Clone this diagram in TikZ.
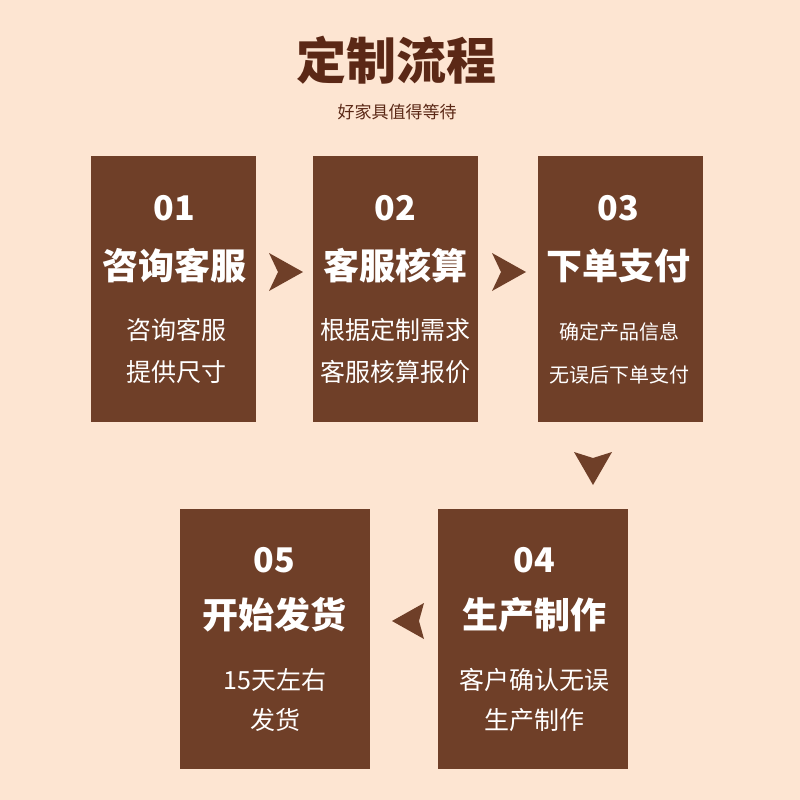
\documentclass[tikz,border=0pt]{standalone}
\usepackage{fontspec}
\setmainfont{Noto Sans CJK SC}
\usetikzlibrary{calc}
\definecolor{bgpeach}{HTML}{FDE5D2}
\definecolor{boxbrown}{HTML}{6F3F28}
\definecolor{ttlbrown}{HTML}{5B2816}
\tikzset{
  stepbox/.style = {fill=boxbrown, inner sep=0pt, minimum width=165pt, minimum height=266pt},
  widebox/.style = {fill=boxbrown, inner sep=0pt, minimum width=190pt, minimum height=260pt},
  num/.style     = {text=white, font=\fontsize{34}{34}\selectfont\bfseries, inner sep=0pt},
  ttl/.style     = {text=white, font=\fontsize{36}{36}\selectfont\bfseries, inner sep=0pt},
  sub/.style     = {text=white, font=\fontsize{25}{25}\selectfont, inner sep=0pt},
  subs/.style    = {text=white, font=\fontsize{20}{20}\selectfont, inner sep=0pt},
  chev/.style    = {fill=boxbrown},
}

\begin{document}
\begin{tikzpicture}[x=1pt, y=-1pt]
  \fill[bgpeach] (0,0) rectangle (800,800);
  \useasboundingbox (0,0) rectangle (800,800);
  % heading
  \node[text=ttlbrown, font=\fontsize{50}{50}\selectfont\bfseries, inner sep=0pt] (head) at (396,60) {定制流程};
  \node[text=ttlbrown, font=\fontsize{17}{17}\selectfont, inner sep=0pt] (tag) at (397,112) {好家具值得等待};
  % boxes
  \node[stepbox] (b1) at (173.5,289) {};
  \node[stepbox] (b2) at (395.5,289) {};
  \node[stepbox] (b3) at (620.5,289) {};
  \node[widebox] (b4) at (533,639) {};
  \node[widebox] (b5) at (275,639) {};
  % box texts
  \node[num] (n1) at ($(b1.north)+(1,52)$)  {01};
  \node[ttl] (t1) at ($(b1.north)+(1,110)$) {咨询客服};
  \node[sub] (s1) at ($(b1.north)+(3,174)$) {咨询客服};
  \node[sub] (u1) at ($(b1.north)+(3,216)$) {提供尺寸};
  \node[num] (n2) at ($(b2.north)+(0,52)$)  {02};
  \node[ttl] (t2) at ($(b2.north)+(0,110)$) {客服核算};
  \node[sub] (s2) at ($(b2.north)+(0,174)$) {根据定制需求};
  \node[sub] (u2) at ($(b2.north)+(0,216)$) {客服核算报价};
  \node[num] (n3) at ($(b3.north)+(-2,52)$)  {03};
  \node[ttl] (t3) at ($(b3.north)+(-2,110)$) {下单支付};
  \node[subs] (s3) at ($(b3.north)+(-1,176)$) {确定产品信息};
  \node[subs] (u3) at ($(b3.north)+(-1,219)$) {无误后下单支付};
  \node[num] (n4) at ($(b4.north)+(1,51)$)  {04};
  \node[ttl] (t4) at ($(b4.north)+(1,106)$) {生产制作};
  \node[sub] (s4) at ($(b4.north)+(1,171)$) {客户确认无误};
  \node[sub] (u4) at ($(b4.north)+(1,211)$) {生产制作};
  \node[num] (n5) at ($(b5.north)+(-1,51)$)  {05};
  \node[ttl] (t5) at ($(b5.north)+(-1,106)$) {开始发货};
  \node[sub] (s5) at ($(b5.north)+(0,171)$) {15天左右};
  \node[sub] (u5) at ($(b5.north)+(0,211)$) {发货};
  % chevrons
  \coordinate (a12) at (286,272);
  \coordinate (a23) at (509,272);
  \coordinate (a34) at (593,468);
  \coordinate (a45) at (408,621);
  \fill[chev] ($(a12)+(-17,-19)$) -- ($(a12)+(17,0)$) -- ($(a12)+(-17,19)$) -- ($(a12)+(-8,0)$) -- cycle;
  \fill[chev] ($(a23)+(-17,-19)$) -- ($(a23)+(17,0)$) -- ($(a23)+(-17,19)$) -- ($(a23)+(-8,0)$) -- cycle;
  \fill[chev] ($(a34)+(-19,-16)$) -- ($(a34)+(0,-10)$) -- ($(a34)+(19,-16)$) -- ($(a34)+(0,17)$) -- cycle;
  \fill[chev] ($(a45)+(-16,0)$) -- ($(a45)+(16,-18)$) -- ($(a45)+(11,0)$) -- ($(a45)+(16,18)$) -- cycle;
\end{tikzpicture}
\end{document}
